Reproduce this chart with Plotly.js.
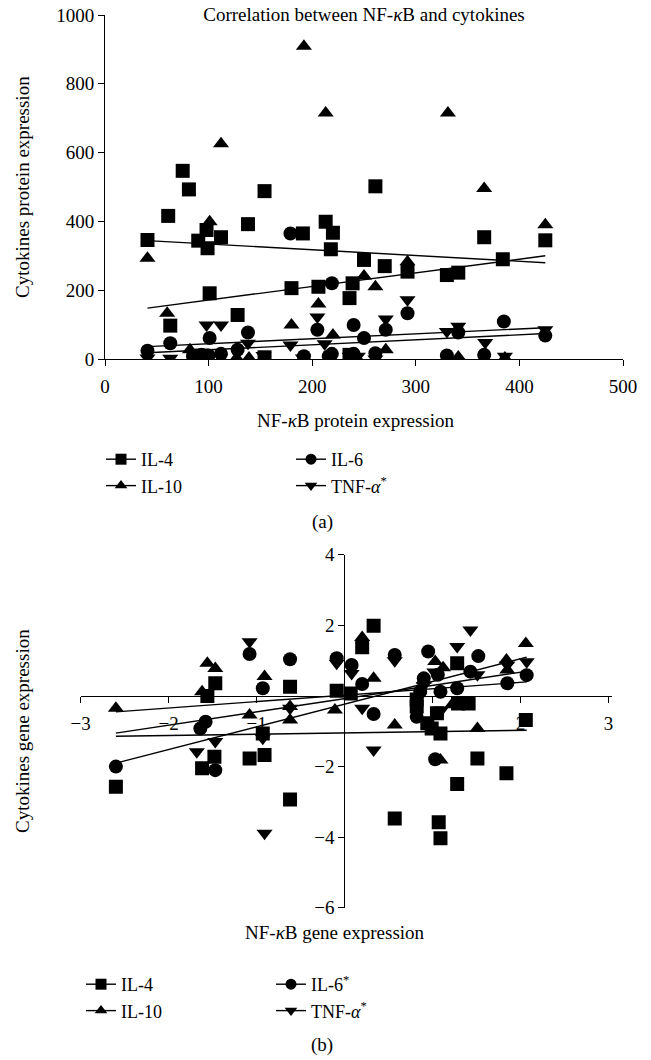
<!DOCTYPE html>
<html>
<head>
<meta charset="utf-8">
<script src="https://cdn.plot.ly/plotly-3.0.1.min.js"></script>
<style>html,body{margin:0;padding:0;background:#fff;}#chart{width:651px;height:1060px;}</style>
</head>
<body>
<div id="chart"></div>
<script>
// ---------- Panel (a): protein expression ----------
const topIL4X = [41, 61, 63, 75, 81, 90, 93, 98, 99, 101, 112, 128, 138, 154, 154, 180, 191, 206, 213, 218, 220, 236, 236, 239, 250, 261, 270, 292, 330, 341, 366, 384, 425];
const topIL4Y = [346, 416, 97, 547, 493, 344, 10, 375, 322, 191, 354, 128, 392, 488, 5, 206, 365, 210, 399, 319, 367, 177, 12, 220, 288, 502, 270, 254, 244, 251, 354, 290, 345];
const topIL10X = [41, 60, 82, 96, 101, 112, 127, 139, 180, 192, 206, 213, 220, 243, 250, 261, 271, 292, 331, 341, 366, 386, 425];
const topIL10Y = [293, 133, 27, 10, 399, 626, 3, 3, 99, 909, 160, 715, 70, 3, 241, 210, 27, 283, 715, 6, 496, 3, 390];
const topIL6X = [41, 63, 85, 93, 100, 101, 112, 128, 138, 179, 192, 205, 216, 219, 219, 240, 240, 250, 261, 271, 292, 330, 341, 366, 385, 425];
const topIL6Y = [24, 46, 8, 12, 10, 61, 15, 27, 77, 365, 8, 85, 8, 220, 15, 99, 15, 61, 17, 85, 133, 10, 77, 12, 109, 68];
const topTNFX = [41, 63, 98, 112, 138, 153, 179, 191, 205, 212, 236, 244, 261, 271, 292, 330, 341, 367, 386, 425];
const topTNFY = [3, 2, 99, 99, 46, 10, 41, 3, 122, 44, 8, 8, 0, 116, 172, 80, 95, 48, 8, 85];
// fitted regression lines (end points)
const topFitX = [41, 425];
const topFitIL4 = [344, 280];
const topFitIL10 = [148, 300];
const topFitIL6 = [18, 74];
const topFitTNF = [36, 91];
const topXTicks = [0, 100, 200, 300, 400, 500];
const topYTicks = [0, 200, 400, 600, 800, 1000];

// ---------- Panel (b): gene expression ----------
const botIL4X = [-2.60, -1.62, -1.56, -1.48, -1.47, -1.08, -0.93, -0.91, -0.62, -0.62, -0.09, 0.07, 0.20, 0.33, 0.57, 0.82, 0.82, 0.94, 0.99, 1.05, 1.07, 1.09, 1.09, 1.28, 1.28, 1.29, 1.41, 1.51, 1.84, 2.06];
const botIL4Y = [-2.57, -2.05, 0.00, -1.72, 0.36, -1.77, -1.06, -1.67, 0.26, -2.93, 0.15, 0.07, 1.38, 1.99, -3.47, -0.10, -0.30, -0.77, -0.92, -0.49, -3.58, -1.06, -4.03, 0.93, -2.49, -0.21, -0.21, -1.77, -2.19, -0.68];
const botIL10X = [-2.60, -1.62, -1.56, -1.47, -1.08, -0.91, -0.62, -0.62, -0.11, 0.20, 0.33, 0.57, 0.90, 1.03, 1.09, 1.12, 1.22, 1.51, 1.84, 1.85, 2.06];
const botIL10Y = [-0.35, 0.12, 0.93, 0.78, -0.54, 0.55, -0.30, -0.68, -0.40, 1.66, 0.50, -0.82, 0.45, 0.98, -1.81, 0.80, -0.25, -0.92, 1.02, 0.74, 1.49];
const botIL6X = [-2.60, -1.64, -1.58, -1.47, -1.08, -0.93, -0.62, -0.09, 0.08, 0.20, 0.33, 0.57, 0.82, 0.86, 0.90, 0.95, 1.03, 1.06, 1.09, 1.28, 1.43, 1.52, 1.85, 2.07];
const botIL6Y = [-2.00, -0.92, -0.73, -2.10, 1.19, 0.22, 1.04, 1.07, 0.88, 0.34, -0.51, 1.16, -0.59, 0.12, 0.50, 1.26, -1.79, 0.60, 0.12, 0.22, 0.69, 1.13, 0.36, 0.59];
const botTNFX = [-1.68, -1.47, -1.08, -0.93, -0.91, -0.62, -0.09, 0.08, 0.20, 0.33, 0.57, 0.90, 1.02, 1.10, 1.28, 1.43, 1.51, 1.85, 2.07];
const botTNFY = [-1.58, -1.29, 1.54, -1.20, -3.89, -0.35, 0.93, 0.64, -0.35, -1.53, 1.00, 0.30, 0.68, -0.40, 1.40, 1.87, 0.60, 0.88, 0.97];
const botFitX = [-2.6, 2.07];
const botFitIL4 = [-1.14, -0.97];
const botFitIL10 = [-0.45, 0.40];
const botFitIL6 = [-1.90, 1.10];
const botFitTNF = [-1.05, 0.70];
const botXTicks = [-3, -2, -1, 1, 2, 3];
const botYTicks = [-6, -4, -2, 2, 4];

// ---------- labels ----------
const seriesNamesTop = ['IL-4', 'IL-6', 'IL-10', 'TNF-<i>α</i><sup>*</sup>'];
const seriesNamesBot = ['IL-4', 'IL-6<sup>*</sup>', 'IL-10', 'TNF-<i>α</i><sup>*</sup>'];
const chartTitle = 'Correlation between NF-<i>κ</i>B and cytokines';
const topXTitle = 'NF-<i>κ</i>B protein expression';
const topYTitle = 'Cytokines protein expression';
const botXTitle = 'NF-<i>κ</i>B gene expression';
const botYTitle = 'Cytokines gene expression';

// ---------- styling / layout ----------
const W = 651, H = 1060;
const FONT = 'Liberation Serif, Times New Roman, serif';
const fx = p => p / W;
const fy = p => 1 - p / H;
const MS = 14;

function pts(x, y, symbol, xa, ya) {
  return {x: x, y: y, xaxis: xa, yaxis: ya, type: 'scatter', mode: 'markers', showlegend: false,
          hoverinfo: 'x+y', marker: {symbol: symbol, size: MS, color: '#000'}};
}
function fit(x, y, symbol, xa, ya, name, legend) {
  return {x: x, y: y, xaxis: xa, yaxis: ya, type: 'scatter', mode: 'lines+markers', name: name,
          legend: legend, hoverinfo: 'skip', line: {color: '#000', width: 1.4},
          marker: {symbol: symbol, size: 11, color: '#000'},
          selectedpoints: [], unselected: {marker: {opacity: 0}}};
}

const traces = [
  pts(topIL4X, topIL4Y, 'square', 'x', 'y'),
  pts(topIL6X, topIL6Y, 'circle', 'x', 'y'),
  pts(topIL10X, topIL10Y, 'triangle-up', 'x', 'y'),
  pts(topTNFX, topTNFY, 'triangle-down', 'x', 'y'),
  fit(topFitX, topFitIL4, 'square', 'x', 'y', seriesNamesTop[0], 'legend'),
  fit(topFitX, topFitIL10, 'triangle-up', 'x', 'y', seriesNamesTop[2], 'legend'),
  fit(topFitX, topFitIL6, 'circle', 'x', 'y', seriesNamesTop[1], 'legend2'),
  fit(topFitX, topFitTNF, 'triangle-down', 'x', 'y', seriesNamesTop[3], 'legend2'),

  pts(botIL4X, botIL4Y, 'square', 'x2', 'y2'),
  pts(botIL6X, botIL6Y, 'circle', 'x2', 'y2'),
  pts(botIL10X, botIL10Y, 'triangle-up', 'x2', 'y2'),
  pts(botTNFX, botTNFY, 'triangle-down', 'x2', 'y2'),
  fit(botFitX, botFitIL4, 'square', 'x2', 'y2', seriesNamesBot[0], 'legend3'),
  fit(botFitX, botFitIL10, 'triangle-up', 'x2', 'y2', seriesNamesBot[2], 'legend3'),
  fit(botFitX, botFitIL6, 'circle', 'x2', 'y2', seriesNamesBot[1], 'legend4'),
  fit(botFitX, botFitTNF, 'triangle-down', 'x2', 'y2', seriesNamesBot[3], 'legend4')
];

const axisCommon = {showgrid: false, zeroline: false, showline: true, linecolor: '#000', linewidth: 1,
  ticks: 'outside', ticklen: 6, tickwidth: 1, tickcolor: '#000',
  tickfont: {family: FONT, size: 19, color: '#000'}, fixedrange: true};

function legendAt(xp, yp) {
  return {x: fx(xp), y: fy(yp), xanchor: 'left', yanchor: 'top', orientation: 'v',
          bgcolor: 'rgba(0,0,0,0)', font: {family: FONT, size: 18, color: '#000'},
          traceorder: 'normal', itemclick: false, itemdoubleclick: false};
}

const layout = {
  width: W, height: H,
  margin: {l: 0, r: 0, t: 0, b: 0},
  paper_bgcolor: '#fff', plot_bgcolor: 'rgba(0,0,0,0)',
  font: {family: FONT, size: 19, color: '#000'},
  title: {text: chartTitle, font: {family: FONT, size: 19, color: '#000'},
          x: fx(364), xanchor: 'center', y: fy(14), yanchor: 'middle'},
  xaxis: Object.assign({}, axisCommon, {domain: [fx(105), fx(623)], range: [0, 500],
          tickmode: 'array', tickvals: topXTicks, anchor: 'y', ticklabelstandoff: 4}),
  yaxis: Object.assign({}, axisCommon, {domain: [fy(359), fy(15)], range: [0, 1000],
          tickmode: 'array', tickvals: topYTicks, anchor: 'x'}),
  xaxis2: Object.assign({}, axisCommon, {domain: [fx(80.7), fx(612)], range: [-3, 3.04],
          tickmode: 'array', tickvals: botXTicks, anchor: 'free', position: fy(696), ticklabelstandoff: 4}),
  yaxis2: Object.assign({}, axisCommon, {domain: [fy(907.8), fy(554.8)], range: [-6, 4],
          tickmode: 'array', tickvals: botYTicks, anchor: 'free', position: fx(344.3)}),
  legend: legendAt(101, 441),
  legend2: legendAt(291, 441),
  legend3: legendAt(81, 966),
  legend4: legendAt(271, 966),
  annotations: [
    {text: topYTitle, x: fx(22), y: fy(187), xref: 'paper', yref: 'paper', textangle: -90,
     showarrow: false, xanchor: 'center', yanchor: 'middle', font: {family: FONT, size: 19}},
    {text: topXTitle, x: fx(356), y: fy(420), xref: 'paper', yref: 'paper',
     showarrow: false, xanchor: 'center', yanchor: 'middle', font: {family: FONT, size: 19}},
    {text: '(a)', x: fx(322), y: fy(522), xref: 'paper', yref: 'paper',
     showarrow: false, xanchor: 'center', yanchor: 'middle', font: {family: FONT, size: 19}},
    {text: botYTitle, x: fx(22), y: fy(731), xref: 'paper', yref: 'paper', textangle: -90,
     showarrow: false, xanchor: 'center', yanchor: 'middle', font: {family: FONT, size: 19}},
    {text: botXTitle, x: fx(335), y: fy(932), xref: 'paper', yref: 'paper',
     showarrow: false, xanchor: 'center', yanchor: 'middle', font: {family: FONT, size: 19}},
    {text: '(b)', x: fx(322), y: fy(1045), xref: 'paper', yref: 'paper',
     showarrow: false, xanchor: 'center', yanchor: 'middle', font: {family: FONT, size: 19}}
  ]
};

Plotly.newPlot('chart', traces, layout, {displayModeBar: false, staticPlot: true});
</script>
</body>
</html>
